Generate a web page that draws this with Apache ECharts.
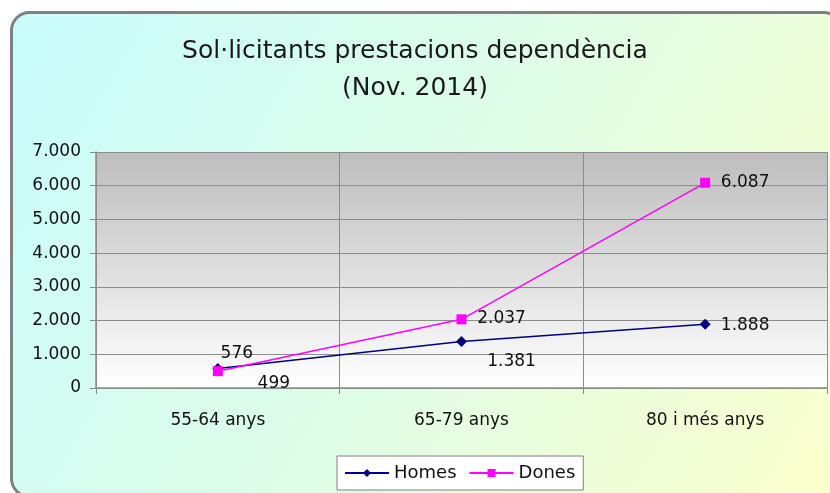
<!DOCTYPE html>
<html>
<head>
<meta charset="utf-8">
<script src="https://cdn.jsdelivr.net/npm/echarts@6/dist/echarts.min.js"></script>
<style>
  html, body { margin: 0; padding: 0; background: #fff; }
  #chart { width: 830px; height: 493px; }
</style>
</head>
<body>
<div id="chart"></div>
<script>
const categories = ["55-64 anys", "65-79 anys", "80 i més anys"];
const homes = [576, 1381, 1888];
const dones = [499, 2037, 6087];
const yTicks = { min: 0, max: 7000, interval: 1000 };

// offsets of each value label from its point
const homesLabelOffset = [[19, -15], [50, 20], [40, 1]];
const donesLabelOffset = [[56, 12], [40, -1], [40, 0]];

const FONT = "DejaVu Sans";

function fmt(v) {
  return String(v).replace(/\B(?=(\d{3})+(?!\d))/g, ".");
}

function buildData(values, offsets) {
  return values.map((v, i) => ({
    value: v,
    label: { offset: offsets[i] },
  }));
}

const chart = echarts.init(document.getElementById("chart"));

const option = {
  animation: false,
  graphic: [
    {
      type: "rect",
      z: -10,
      silent: true,
      shape: { x: 11.5, y: 12.5, width: 830, height: 484, r: 18 },
      style: {
        fill: new echarts.graphic.LinearGradient(0, 0, 1, 1, [
          { offset: 0, color: "#c8fcfc" },
          { offset: 0.5, color: "#dffde8" },
          { offset: 1, color: "#fcffcc" },
        ]),
        stroke: "#808080",
        lineWidth: 3,
      },
    },
  ],
  title: {
    text: "Sol·licitants prestacions dependència\n(Nov. 2014)",
    left: "center",
    top: 28,
    textStyle: {
      fontFamily: FONT,
      fontSize: 25,
      fontWeight: "normal",
      color: "#1a1a1a",
      lineHeight: 37,
    },
  },
  legend: {
    data: ["Homes", "Dones"],
    left: 337,
    top: 456,
    orient: "horizontal",
    backgroundColor: "#ffffff",
    borderColor: "#808080",
    borderWidth: 1,
    borderRadius: 0,
    padding: [8, 8, 8, 7],
    itemGap: 12,
    itemWidth: 44,
    itemHeight: 10,
    textStyle: { fontFamily: FONT, fontSize: 18, color: "#111" },
  },
  grid: {
    left: 96,
    right: 3,
    top: 152,
    bottom: 105,
    show: true,
    borderWidth: 0,
    backgroundColor: new echarts.graphic.LinearGradient(0, 0, 0, 1, [
      { offset: 0, color: "#bdbdbd" },
      { offset: 1, color: "#ffffff" },
    ]),
  },
  xAxis: {
    type: "category",
    data: categories,
    boundaryGap: true,
    axisLine: { lineStyle: { color: "#8c8c8c", width: 1.5 } },
    axisTick: { show: true, length: 6, lineStyle: { color: "#8c8c8c" } },
    splitLine: { show: true, lineStyle: { color: "#8c8c8c", width: 1 } },
    axisLabel: { fontFamily: FONT, fontSize: 17, color: "#111", margin: 24 },
  },
  yAxis: {
    type: "value",
    min: yTicks.min,
    max: yTicks.max,
    interval: yTicks.interval,
    axisLine: { show: true, lineStyle: { color: "#8c8c8c", width: 1.5 } },
    axisTick: { show: true, length: 6, lineStyle: { color: "#8c8c8c" } },
    splitLine: { show: true, lineStyle: { color: "#8c8c8c", width: 1 } },
    axisLabel: {
      fontFamily: FONT,
      fontSize: 17,
      color: "#111",
      margin: 15,
      formatter: fmt,
    },
  },
  series: [
    {
      name: "Homes",
      type: "line",
      data: buildData(homes, homesLabelOffset),
      symbol: "diamond",
      symbolSize: 11,
      color: "#000080",
      lineStyle: { width: 1.5, color: "#000080" },
      label: {
        show: true,
        position: "inside",
        formatter: (p) => fmt(p.value),
        fontFamily: FONT,
        fontSize: 17,
        color: "#111",
      },
      z: 3,
    },
    {
      name: "Dones",
      type: "line",
      data: buildData(dones, donesLabelOffset),
      symbol: "rect",
      symbolSize: 10,
      color: "#ff00ff",
      lineStyle: { width: 1.5, color: "#ff00ff" },
      label: {
        show: true,
        position: "inside",
        formatter: (p) => fmt(p.value),
        fontFamily: FONT,
        fontSize: 17,
        color: "#111",
      },
      z: 4,
    },
  ],
};

chart.setOption(option);
</script>
</body>
</html>
